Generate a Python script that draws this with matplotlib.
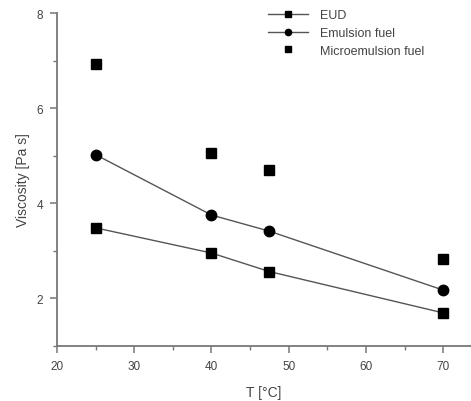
import matplotlib
matplotlib.use("Agg")
from matplotlib import pyplot as plt
from matplotlib.ticker import MultipleLocator

plt.rcParams['font.family'] = ['Liberation Sans', 'DejaVu Sans']

# data
temp = [25, 40, 47.5, 70]
eud = [3.48, 2.95, 2.56, 1.69]
emulsion = [5.02, 3.75, 3.41, 2.17]
microemulsion = [6.93, 5.06, 4.69, 2.82]

axis_col = '#777777'
text_col = '#444444'

fig = plt.figure(figsize=(4.71, 4.02), dpi=100)
ax = fig.add_axes([0.121, 0.1376, 0.879, 0.8274])

ax.plot(temp, eud, color='#555555', lw=1.0, marker='s', ms=6.5,
        mfc='black', mec='black', label='EUD')
ax.plot(temp, emulsion, color='#555555', lw=1.0, marker='o', ms=7.5,
        mfc='black', mec='black', label='Emulsion fuel')
ax.plot(temp, microemulsion, ls='none', marker='s', ms=6.5,
        mfc='black', mec='black', label='Microemulsion fuel')

ax.set_xlim(20, 73.6)
ax.set_ylim(1, 8)
ax.xaxis.set_major_locator(MultipleLocator(10))
ax.xaxis.set_minor_locator(MultipleLocator(5))
ax.yaxis.set_major_locator(MultipleLocator(2))
ax.yaxis.set_minor_locator(MultipleLocator(1))
ax.set_yticks([2, 4, 6, 8])

for side in ['top', 'right']:
    ax.spines[side].set_visible(False)
for side in ['left', 'bottom']:
    ax.spines[side].set_color(axis_col)
    ax.spines[side].set_linewidth(1.3)

ax.tick_params(which='major', direction='out', length=5, width=1.1,
               color=axis_col, labelcolor=text_col, labelsize=8.5, pad=5)
ax.tick_params(which='minor', direction='out', length=3, width=1.0,
               color=axis_col)

ax.set_xlabel('T [°C]', color=text_col, fontsize=10, labelpad=10)
ax.set_ylabel('Viscosity [Pa s]', color=text_col, fontsize=10, labelpad=5)

leg = ax.legend(loc='upper right', bbox_to_anchor=(0.915, 1.045), frameon=False,
                fontsize=9, markerscale=0.6, handlelength=3.2,
                labelspacing=0.45, handletextpad=1.0)
for t in leg.get_texts():
    t.set_color(text_col)

fig.savefig('out.png', dpi=100)
